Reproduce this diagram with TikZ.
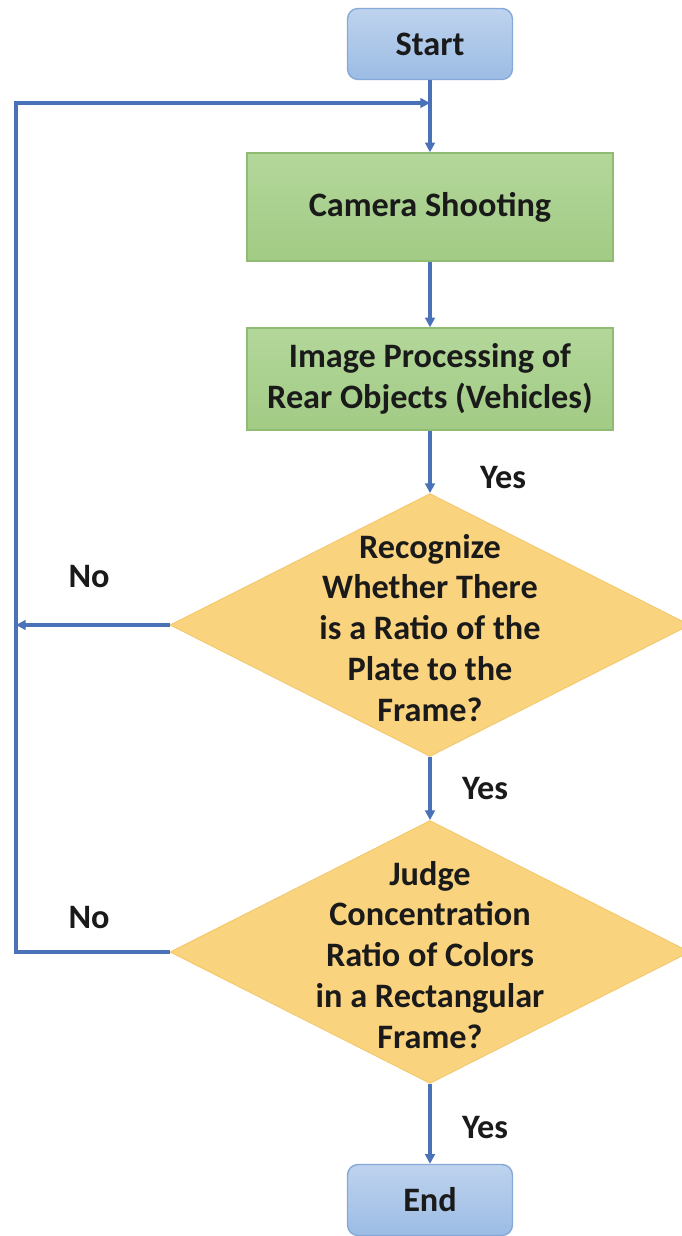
\documentclass[tikz,border=0pt]{standalone}
\usepackage{fontspec}
\setmainfont{Carlito}
\usepackage{xcolor}
\usepackage{tikz}
\usetikzlibrary{arrows.meta,shapes.geometric}
\definecolor{flow}{HTML}{4A72B8}
\definecolor{ink}{HTML}{1A1A1A}
\definecolor{termtop}{HTML}{BED3EE}
\definecolor{termbot}{HTML}{9CBCE4}
\definecolor{termline}{HTML}{86A9D8}
\definecolor{proctop}{HTML}{B3D79A}
\definecolor{procbot}{HTML}{A2CB85}
\definecolor{procline}{HTML}{8FBB72}
\definecolor{decfill}{HTML}{FAD37E}
\definecolor{decline}{HTML}{F3C86E}
\newcommand{\flowfont}{\fontsize{19.5}{23.3}\selectfont\bfseries}
\tikzset{
  term/.style={rectangle, rounded corners=6pt, draw=termline, line width=0.8pt, top color=termtop, bottom color=termbot, minimum width=3.3cm, minimum height=1.42cm, font=\flowfont, text=ink},
  proc/.style={rectangle, draw=procline, line width=0.8pt, top color=proctop, bottom color=procbot, minimum width=7.32cm, font=\flowfont, text=ink, align=center},
  decide/.style={diamond, fill=decfill, draw=decline, line width=0.5pt, minimum width=10.4cm, minimum height=5.26cm, inner sep=0pt},
  dtext/.style={font=\flowfont, text=ink, align=center, inner sep=0pt},
  ans/.style={font=\flowfont, text=ink},
  flowline/.style={draw=flow, line width=2.2pt},
  flowarrow/.style={flowline, -{Triangle[length=5.5pt,width=5.5pt]}},
}
\begin{document}
\begin{tikzpicture}[x=0.02cm, y=-0.02cm]
  \useasboundingbox (0,0) rectangle (682,1236);
  \node[term] (start) at (430,44) {Start};
  \node[proc, minimum height=2.16cm] (cam) at (430,207) {Camera Shooting};
  \node[proc, minimum height=2.04cm] (img) at (430,379) {Image Processing of\\Rear Objects (Vehicles)};
  \node[decide] (rec) at (430,625) {};
  \node[dtext] (rect) at (430,628) {Recognize\\Whether There\\is a Ratio of the\\Plate to the\\Frame?};
  \node[decide] (jud) at (430,952) {};
  \node[dtext] (judt) at (430,955) {Judge\\Concentration\\Ratio of Colors\\in a Rectangular\\Frame?};
  \node[term] (end) at (430,1200) {End};
  \coordinate (loopin) at (430,103);
  \coordinate (lefttop) at (16,103);
  \coordinate (leftmid) at (16,625);
  \coordinate (leftbot) at (16,952);
  \node[ans] (yes1) at (503,478) {Yes};
  \node[ans] (yes2) at (485,789) {Yes};
  \node[ans] (yes3) at (485,1128) {Yes};
  \node[ans] (no1) at (89,577) {No};
  \node[ans] (no2) at (89,918) {No};
  \draw[flowarrow] (start) -- (cam);
  \draw[flowarrow] (cam) -- (img);
  \draw[flowarrow] (img) -- (rec);
  \draw[flowarrow] (rec) -- (jud);
  \draw[flowarrow] (jud) -- (end);
  \draw[flowarrow] (rec.west) -- (leftmid);
  \draw[flowarrow] (jud.west) -- (leftbot) -- (lefttop) -- (loopin);
\end{tikzpicture}
\end{document}
